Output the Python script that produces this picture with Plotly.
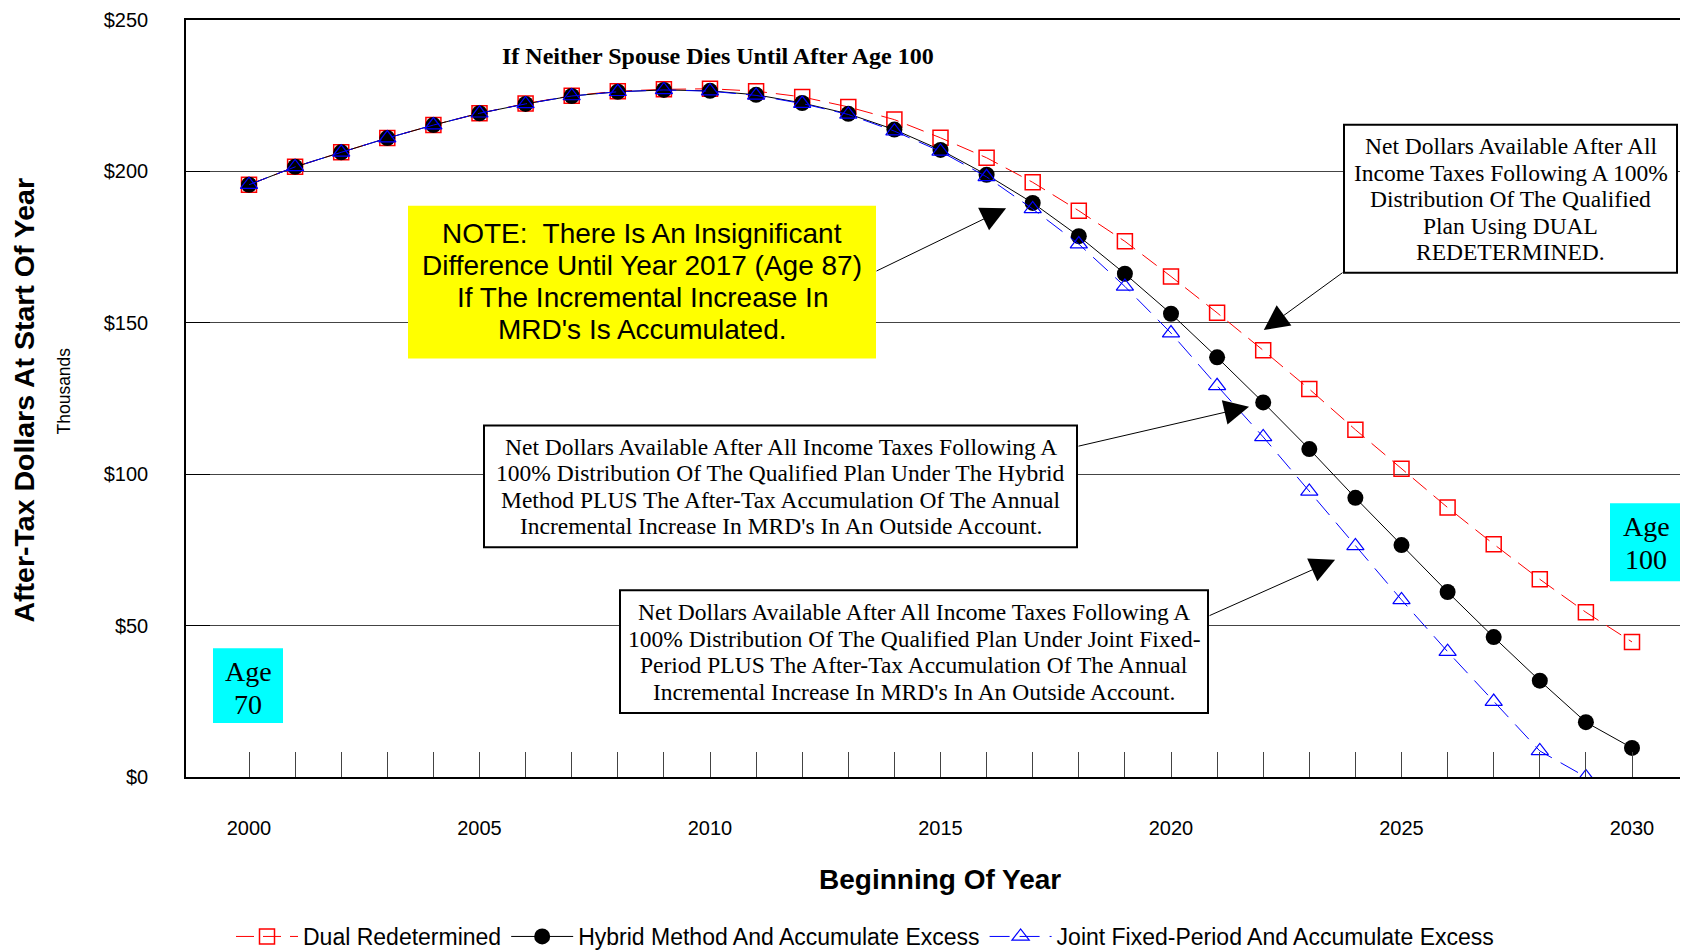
import plotly.graph_objects as go

# ---------------- data ----------------
years = list(range(2000, 2031))

dual_redetermined = [195.6, 201.5, 206.3, 211.0, 215.3, 219.2, 222.4, 225.0, 226.5, 227.1,
                     227.3, 226.5, 224.6, 221.3, 217.1, 211.1, 204.5, 196.4, 187.0, 176.9,
                     165.3, 153.3, 140.9, 128.1, 114.7, 101.8, 89.0, 76.9, 65.3, 54.4, 44.6]

hybrid_accumulate = [195.6, 201.5, 206.3, 211.0, 215.3, 219.2, 222.3, 224.9, 226.3, 226.9,
                     226.6, 225.3, 222.6, 219.0, 213.8, 207.1, 198.9, 189.6, 178.6, 166.2,
                     153.0, 138.6, 123.7, 108.3, 92.2, 76.6, 61.1, 46.2, 31.8, 18.1, 9.6]

joint_accumulate = [195.6, 201.5, 206.3, 211.0, 215.3, 219.2, 222.3, 224.9, 226.3, 226.9,
                    226.5, 225.1, 222.4, 218.8, 213.3, 206.6, 198.2, 187.6, 176.0, 162.0,
                    146.6, 129.2, 112.3, 94.3, 76.3, 58.5, 41.4, 24.9, 8.6, 0.0, None]

series_names = ["Dual Redetermined",
                "Hybrid Method And Accumulate Excess",
                "Joint Fixed-Period And Accumulate Excess"]

y_tickvals = [0, 50, 100, 150, 200, 250]
x_label_years = [2000, 2005, 2010, 2015, 2020, 2025, 2030]

# ---------------- layout geometry ----------------
# page (window) pixel coordinates of the plot area; the figure is drawn 8px in from the page corner
OFF = 8
PAGE_W, PAGE_H = 1688, 950
L, R, T, B = 186, 1688, 20, 778
PW, PH = R - L, B - T
W = PAGE_W - OFF
H_REQ = PAGE_H          # requested height (drawn about 8px shorter)
H_DRAWN = PAGE_H - OFF

def px(xp):
    return (xp - L) / PW

def py(yp):
    return (B - yp) / PH

SERIF = "Liberation Serif, Times New Roman, serif"
SANS = "Liberation Sans, Arial, sans-serif"

fig = go.Figure()

fig.add_trace(go.Scatter(
    x=years, y=dual_redetermined, name=series_names[0], mode="lines+markers",
    line=dict(color="#FF0000", width=1, dash="18px,9px"),
    marker=dict(symbol="square-open", size=15, color="#FF0000", line=dict(width=1.5, color="#FF2020")),
))
fig.add_trace(go.Scatter(
    x=years, y=hybrid_accumulate, name=series_names[1], mode="lines+markers",
    line=dict(color="#000000", width=1),
    marker=dict(symbol="circle", size=16, color="#000000"),
))
fig.add_trace(go.Scatter(
    x=years, y=joint_accumulate, name=series_names[2], mode="lines+markers",
    line=dict(color="#0000FF", width=1, dash="20px,10px"),
    marker=dict(symbol="triangle-up-open", size=15, color="#0000FF", line=dict(width=1.2, color="#0000FF")),
))

shapes = []
annotations = []

def text_box(x0, x1, y0, y1, lines, centers, font, fill, border):
    shapes.append(dict(type="rect", xref="paper", yref="paper",
                       x0=px(x0), x1=px(x1), y0=py(y1), y1=py(y0),
                       fillcolor=fill,
                       line=dict(color="black", width=2) if border else dict(width=0),
                       layer="above"))
    cx = (x0 + x1) / 2
    for t, cy in zip(lines, centers):
        annotations.append(dict(text=t, xref="paper", yref="paper", x=px(cx), y=py(cy),
                                xanchor="center", yanchor="middle", showarrow=False,
                                font=font))

def arrow(tail, tip):
    annotations.append(dict(text="", xref="paper", yref="paper",
                            x=px(tip[0]), y=py(tip[1]),
                            ax=tail[0] - tip[0], ay=tail[1] - tip[1],
                            showarrow=True, arrowhead=2, arrowsize=5, arrowwidth=1,
                            arrowcolor="black", standoff=1))

box_font = dict(family=SERIF, size=23.5, color="black")

# Dual box
text_box(1344, 1677, 125, 273,
         ["Net Dollars Available After All", "Income Taxes Following A 100%",
          "Distribution Of The Qualified", "Plan Using DUAL", "REDETERMINED."],
         [146, 173, 199.5, 226, 252.5], box_font, "white", True)
# Hybrid box
text_box(484, 1077, 426, 548,
         ["Net Dollars Available After All Income Taxes Following A",
          "100% Distribution Of The Qualified Plan Under The Hybrid",
          "Method PLUS The After-Tax Accumulation Of The Annual",
          "Incremental Increase In MRD's In An Outside Account."],
         [447.5, 474, 500.5, 527], box_font, "white", True)
# Joint box
text_box(620, 1208, 591, 714,
         ["Net Dollars Available After All Income Taxes Following A",
          "100% Distribution Of The Qualified Plan Under Joint Fixed-",
          "Period PLUS The After-Tax Accumulation Of The Annual",
          "Incremental Increase In MRD's In An Outside Account."],
         [613, 639.5, 666, 692.5], box_font, "white", True)
# Yellow note
text_box(408, 876, 206, 359,
         ["NOTE:  There Is An Insignificant", "Difference Until Year 2017 (Age 87)",
          "If The Incremental Increase In", "MRD's Is Accumulated."],
         [234, 266, 298, 330], dict(family=SANS, size=28, color="black"), "#FFFF00", False)
# Age boxes
age_font = dict(family=SERIF, size=28, color="black")
text_box(213, 283, 649, 724, ["Age", "70"], [672, 705], age_font, "#00FFFF", False)
text_box(1610, 1682, 504, 582, ["Age", "100"], [527, 560], age_font, "#00FFFF", False)

# Arrows (tail on box edge, tip near the curves)
arrow((875, 272), (1007, 208))
arrow((1344, 272), (1263, 331))
arrow((1077, 447), (1250, 407))
arrow((1208, 617), (1336, 560))

# Title and axis titles
annotations.append(dict(text="<b>If Neither Spouse Dies Until After Age 100</b>", xref="paper", yref="paper",
                        x=px(718), y=py(56), xanchor="center", yanchor="middle", showarrow=False,
                        font=dict(family=SERIF, size=24, color="black")))
annotations.append(dict(text="<b>After-Tax Dollars At Start Of Year</b>", xref="paper", yref="paper",
                        x=px(24), y=py(401), xanchor="center", yanchor="middle", showarrow=False,
                        textangle=-90, font=dict(family=SANS, size=28.5, color="black")))
annotations.append(dict(text="Thousands", xref="paper", yref="paper",
                        x=px(64), y=py(391), xanchor="center", yanchor="middle", showarrow=False,
                        textangle=-90, font=dict(family=SANS, size=17.5, color="black")))
annotations.append(dict(text="<b>Beginning Of Year</b>", xref="paper", yref="paper",
                        x=px(940), y=py(881), xanchor="center", yanchor="middle", showarrow=False,
                        font=dict(family=SANS, size=28, color="black")))

x0_year = 2000 - (249 - L) / 46.1
x1_year = 2000 + (R - 249) / 46.1

fig.update_layout(
    width=W, height=H_REQ, autosize=False,
    margin=dict(l=L - OFF, r=0, t=T - OFF, b=H_DRAWN - (B - OFF), pad=0),
    paper_bgcolor="white", plot_bgcolor="white",
    font=dict(family=SANS, size=20, color="black"),
    showlegend=True,
    legend=dict(orientation="h", x=px(865), y=py(938), xanchor="center", yanchor="middle",
                font=dict(family=SANS, size=23, color="black"), itemwidth=62,
                bgcolor="rgba(0,0,0,0)", tracegroupgap=0),
    shapes=shapes,
    annotations=annotations,
    xaxis=dict(range=[x0_year, x1_year], tickmode="array", tickvals=years,
               ticktext=[str(y) if y in x_label_years else "" for y in years],
               ticks="inside", ticklen=25, tickcolor="#444", tickwidth=1,
               showline=True, linecolor="black", linewidth=1.5, mirror=True,
               showgrid=False, zeroline=False, ticklabelstandoff=32,
               tickfont=dict(family=SANS, size=20, color="black")),
    yaxis=dict(range=[0, 250], tickmode="array", tickvals=y_tickvals,
               ticktext=["$" + str(v) for v in y_tickvals],
               ticks="inside", ticklen=24, tickcolor="black", tickwidth=1,
               showline=True, linecolor="black", linewidth=1.5,
               showgrid=True, gridcolor="#444", gridwidth=1, zeroline=False,
               ticklabelstandoff=32,
               tickfont=dict(family=SANS, size=20, color="black")),
)

fig.write_html("out.html")
